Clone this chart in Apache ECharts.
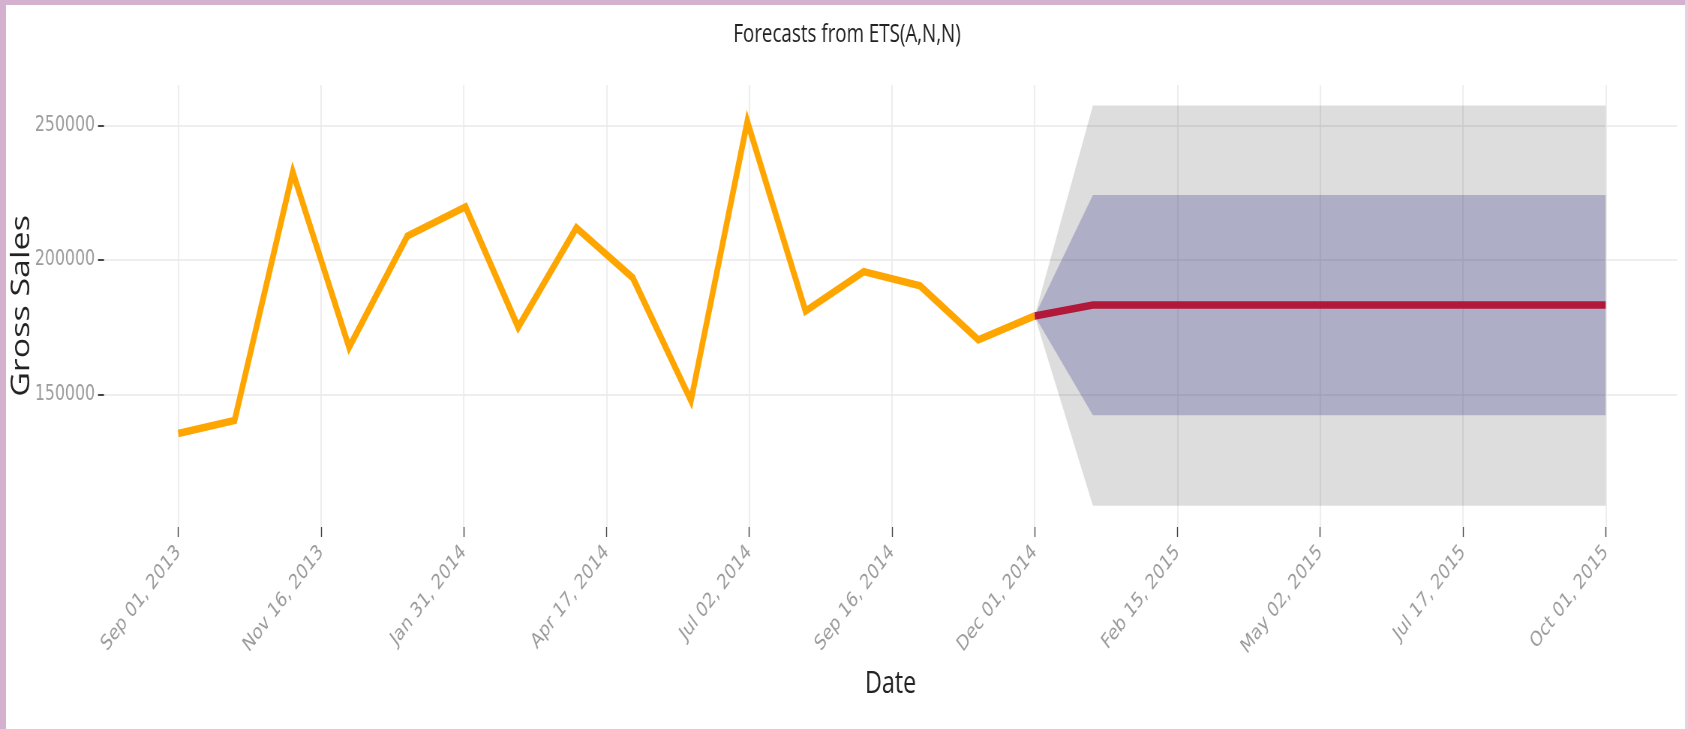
<!DOCTYPE html>
<html>
<head>
<meta charset="utf-8">
<title>Forecasts from ETS(A,N,N)</title>
<script src="https://cdn.jsdelivr.net/npm/echarts@6/dist/echarts.min.js"></script>
<style>
  html, body { margin: 0; padding: 0; width: 1688px; height: 729px; overflow: hidden; background: #ffffff; }
  #wrap { position: absolute; left: 0; top: 0; width: 1688px; height: 729px; overflow: hidden; }
  /* the chart is laid out wide and compressed horizontally */
  #chart { position: absolute; left: 0; top: 0; width: 2250px; height: 729px; transform: scaleX(0.750222); transform-origin: 0 0; }
  .edge { position: absolute; background: #d5b1d0; }
</style>
</head>
<body>
<div id="wrap">
  <div id="chart"></div>
  <div class="edge" style="left:0;top:0;width:1688px;height:5px;"></div>
  <div class="edge" style="left:0;top:0;width:6px;height:729px;"></div>
  <div class="edge" style="left:1685px;top:0;width:3px;height:729px;background:#e6d0e3;"></div>
</div>
<script>
// Monthly gross sales (observed)
const obsDates = ['2013-09-01', '2013-10-01', '2013-11-01', '2013-12-01', '2014-01-01', '2014-02-01',
                  '2014-03-01', '2014-04-01', '2014-05-01', '2014-06-01', '2014-07-01', '2014-08-01',
                  '2014-09-01', '2014-10-01', '2014-11-01', '2014-12-01'];
const obsSales = [135500, 140300, 232700, 167500, 208900, 219800,
                  175000, 212000, 193400, 147700, 251500, 181000,
                  195700, 190400, 170300, 179200];

// ETS(A,N,N) point forecast and prediction intervals (anchored at the last observation)
const fcDates = ['2014-12-01', '2015-01-01', '2015-02-01', '2015-03-01', '2015-04-01', '2015-05-01',
                 '2015-06-01', '2015-07-01', '2015-08-01', '2015-09-01', '2015-10-01'];
const fcMean = [179200, 183300, 183300, 183300, 183300, 183300, 183300, 183300, 183300, 183300, 183300];
const fcLo80 = [179200, 142300, 142300, 142300, 142300, 142300, 142300, 142300, 142300, 142300, 142300];
const fcHi80 = [179200, 224200, 224200, 224200, 224200, 224200, 224200, 224200, 224200, 224200, 224200];
const fcLo95 = [179200, 108600, 108600, 108600, 108600, 108600, 108600, 108600, 108600, 108600, 108600];
const fcHi95 = [179200, 257500, 257500, 257500, 257500, 257500, 257500, 257500, 257500, 257500, 257500];

// Axis ticks
const xTickDates = ['2013-09-01', '2013-11-16', '2014-01-31', '2014-04-17', '2014-07-02', '2014-09-16',
                    '2014-12-01', '2015-02-15', '2015-05-02', '2015-07-17', '2015-10-01'];
const xTickLabels = ['Sep 01, 2013', 'Nov 16, 2013', 'Jan 31, 2014', 'Apr 17, 2014', 'Jul 02, 2014', 'Sep 16, 2014',
                     'Dec 01, 2014', 'Feb 15, 2015', 'May 02, 2015', 'Jul 17, 2015', 'Oct 01, 2015'];
const yTicks = [150000, 200000, 250000];

const DAY = 86400000;
function toTs(s) {
  const p = s.split('-').map(Number);
  return Date.UTC(p[0], p[1] - 1, p[2]);
}
const xTickValues = xTickDates.map(toTs);
const xMin = toTs('2013-09-01') - 39.5 * DAY;
const xMax = toTs('2015-10-01') + 38 * DAY;

const pairs = (dates, vals) => dates.map((d, i) => [toTs(d), vals[i]]);
const bandRows = (lo, hi) => fcDates.map((d, i) => [toTs(d), lo[i], hi[i]]);

// Draws a whole interval band as one polygon (upper edge, then lower edge back)
function bandSeries(name, lo, hi, fill) {
  const rows = bandRows(lo, hi);
  return {
    name: name,
    type: 'custom',
    silent: true,
    clip: true,
    encode: { x: 0, y: [1, 2] },
    data: rows,
    renderItem: function (params, api) {
      if (params.dataIndex !== 0) return null;
      const upper = rows.map(r => api.coord([r[0], r[2]]));
      const lower = rows.map(r => api.coord([r[0], r[1]])).reverse();
      return {
        type: 'polygon',
        shape: { points: upper.concat(lower) },
        style: { fill: fill, stroke: null }
      };
    }
  };
}

const chart = echarts.init(document.getElementById('chart'), null, { renderer: 'canvas', width: 2250, height: 729 });

chart.setOption({
  animation: false,
  backgroundColor: '#ffffff',
  title: {
    text: 'Forecasts from ETS(A,N,N)',
    left: 1129,
    textAlign: 'center',
    top: 22,
    padding: 0,
    textStyle: { fontFamily: 'Open Sans', fontSize: 25, fontWeight: 'normal', color: '#222222' }
  },
  grid: { left: 138.6, right: 14.6, top: 85, bottom: 202, containLabel: false, outerBoundsMode: 'none' },
  xAxis: {
    // date axis in milliseconds (UTC)
    type: 'value',
    min: xMin,
    max: xMax,
    name: 'Date',
    nameLocation: 'middle',
    nameGap: 142,
    nameMoveOverlap: false,
    nameTextStyle: { fontFamily: 'Open Sans', fontSize: 31, color: '#222222' },
    axisLine: { show: false },
    axisTick: { show: true, length: 10, customValues: xTickValues, lineStyle: { color: '#444444', width: 1.4 } },
    axisLabel: {
      customValues: xTickValues,
      rotate: 45,
      margin: 22,
      hideOverlap: false,
      showMinLabel: true,
      showMaxLabel: true,
      color: '#9c9c9c',
      fontFamily: 'DejaVu Sans',
      fontSize: 21,
      formatter: function (v) {
        for (let i = 0; i < xTickValues.length; i++) {
          if (Math.abs(xTickValues[i] - v) < DAY / 2) return xTickLabels[i];
        }
        return '';
      }
    },
    splitLine: { show: true, lineStyle: { color: '#eaeaea', width: 1.6 } }
  },
  yAxis: {
    type: 'value',
    min: 100700,
    max: 265100,
    name: 'Gross Sales',
    nameLocation: 'middle',
    nameGap: 92,
    nameMoveOverlap: false,
    nameTextStyle: { fontFamily: 'Open Sans', fontSize: 34, color: '#222222' },
    axisLine: { show: false },
    axisTick: { show: true, length: 8, customValues: yTicks, lineStyle: { color: '#444444', width: 2 } },
    axisLabel: {
      customValues: yTicks,
      margin: 12,
      color: '#9c9c9c',
      fontFamily: 'DejaVu Sans',
      fontSize: 21,
      formatter: function (v) { return String(v); }
    },
    splitLine: { show: true, lineStyle: { color: '#eeeeee', width: 2 } }
  },
  series: [
    bandSeries('95%', fcLo95, fcHi95, 'rgba(0,0,0,0.135)'),
    bandSeries('80%', fcLo80, fcHi80, 'rgba(65,69,149,0.3)'),
    {
      name: 'Observed', type: 'line', symbol: 'none',
      lineStyle: { color: '#ffa500', width: 7.5, join: 'miter' },
      data: pairs(obsDates, obsSales)
    },
    {
      name: 'Forecast', type: 'line', symbol: 'none',
      lineStyle: { color: '#b2183a', width: 7.5, join: 'miter' },
      data: pairs(fcDates, fcMean)
    }
  ]
});
</script>
</body>
</html>
